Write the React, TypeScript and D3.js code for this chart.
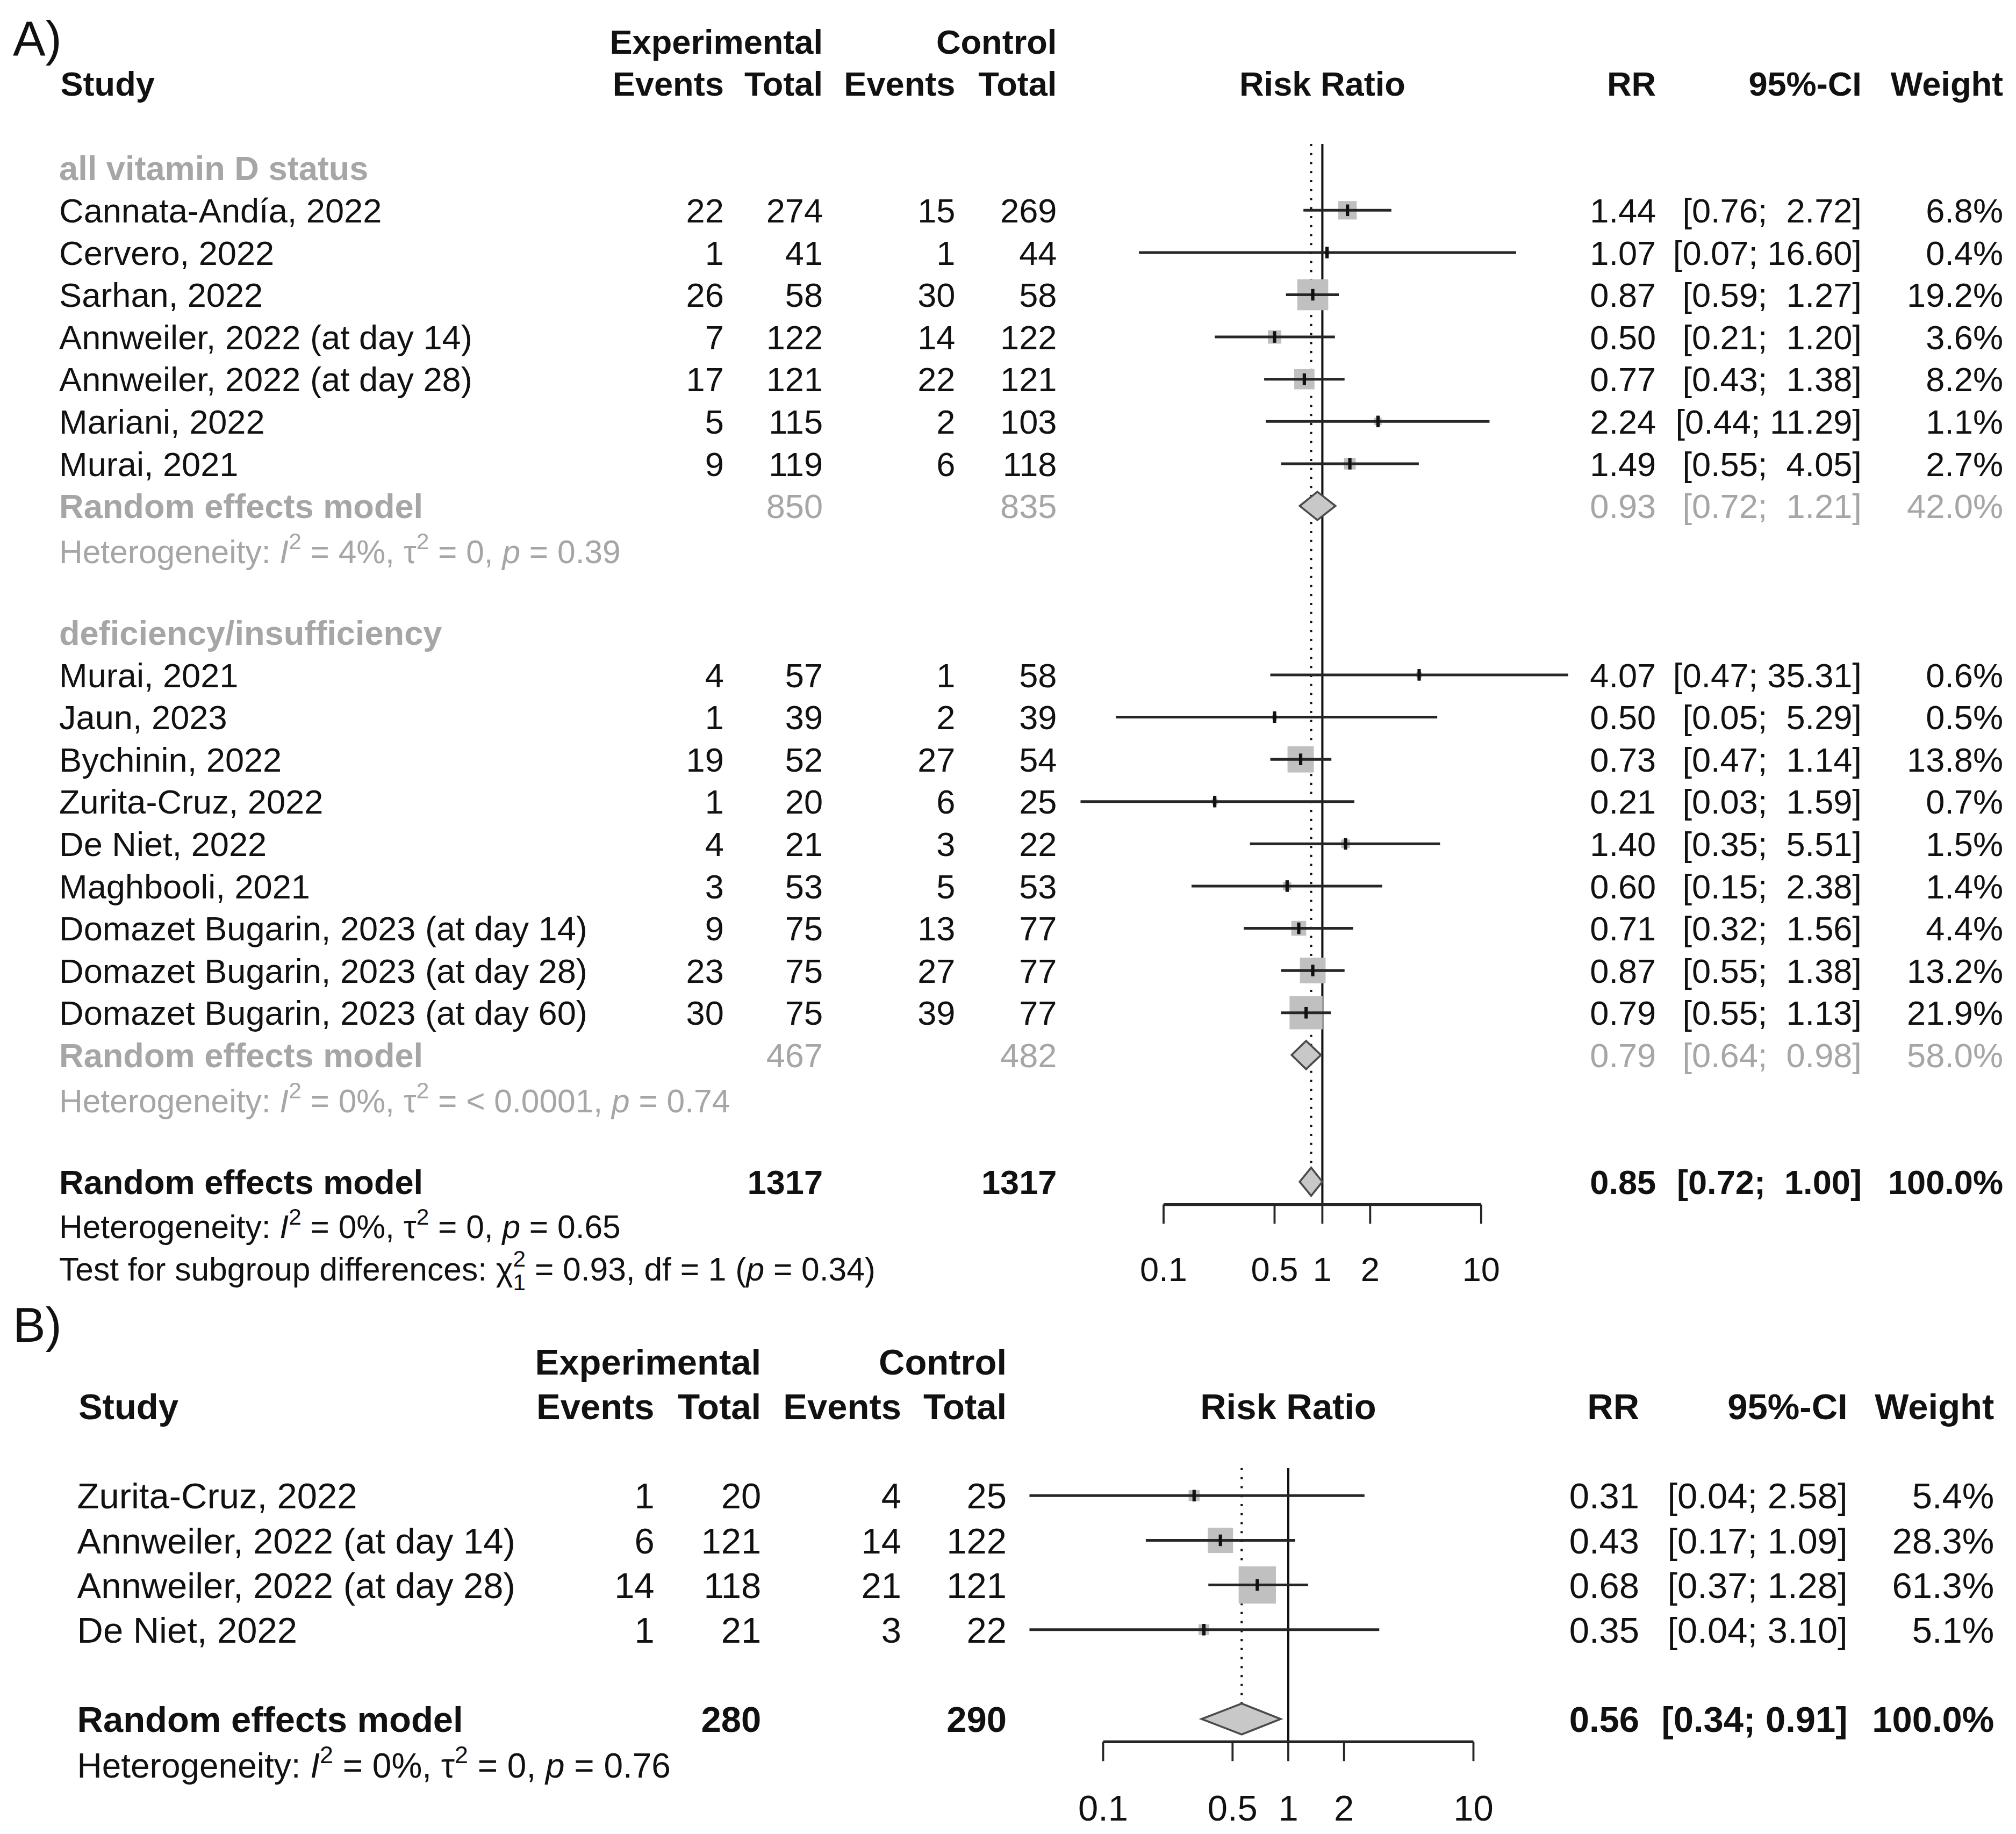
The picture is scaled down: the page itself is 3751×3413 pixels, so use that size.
import React from "react";
import * as d3 from "d3";

// output size and the drawing space (the picture is laid out in 1568-wide units)
const W = 3751;
const H = 3413;
const VW = 1568;
const VH = (H * VW) / W;

const FONT = "'Liberation Sans', Arial, Helvetica, sans-serif";
const INK = "#111111";
const GRAY = "#a6a6a6";
const LINE = "#262626";
const BOX = "#c0c0c0";

// ---------- panel A, subgroup 1: all vitamin D status
const a1Names = [
  "Cannata-Andía, 2022",
  "Cervero, 2022",
  "Sarhan, 2022",
  "Annweiler, 2022 (at day 14)",
  "Annweiler, 2022 (at day 28)",
  "Mariani, 2022",
  "Murai, 2021",
];
const a1EvE = [22, 1, 26, 7, 17, 5, 9];
const a1TotE = [274, 41, 58, 122, 121, 115, 119];
const a1EvC = [15, 1, 30, 14, 22, 2, 6];
const a1TotC = [269, 44, 58, 122, 121, 103, 118];
const a1RR = [1.44, 1.07, 0.87, 0.5, 0.77, 2.24, 1.49];
const a1Lo = [0.76, 0.07, 0.59, 0.21, 0.43, 0.44, 0.55];
const a1Hi = [2.72, 16.6, 1.27, 1.2, 1.38, 11.29, 4.05];
const a1W = [6.8, 0.4, 19.2, 3.6, 8.2, 1.1, 2.7];

// ---------- panel A, subgroup 2: deficiency/insufficiency
const a2Names = [
  "Murai, 2021",
  "Jaun, 2023",
  "Bychinin, 2022",
  "Zurita-Cruz, 2022",
  "De Niet, 2022",
  "Maghbooli, 2021",
  "Domazet Bugarin, 2023 (at day 14)",
  "Domazet Bugarin, 2023 (at day 28)",
  "Domazet Bugarin, 2023 (at day 60)",
];
const a2EvE = [4, 1, 19, 1, 4, 3, 9, 23, 30];
const a2TotE = [57, 39, 52, 20, 21, 53, 75, 75, 75];
const a2EvC = [1, 2, 27, 6, 3, 5, 13, 27, 39];
const a2TotC = [58, 39, 54, 25, 22, 53, 77, 77, 77];
const a2RR = [4.07, 0.5, 0.73, 0.21, 1.4, 0.6, 0.71, 0.87, 0.79];
const a2Lo = [0.47, 0.05, 0.47, 0.03, 0.35, 0.15, 0.32, 0.55, 0.55];
const a2Hi = [35.31, 5.29, 1.14, 1.59, 5.51, 2.38, 1.56, 1.38, 1.13];
const a2W = [0.6, 0.5, 13.8, 0.7, 1.5, 1.4, 4.4, 13.2, 21.9];

// pooled rows of panel A: subgroup 1, subgroup 2, overall
const aGroupLabels = ["all vitamin D status", "deficiency/insufficiency"];
const aPoolTotE = [850, 467, 1317];
const aPoolTotC = [835, 482, 1317];
const aPoolRR = [0.93, 0.79, 0.85];
const aPoolLo = [0.72, 0.64, 0.72];
const aPoolHi = [1.21, 0.98, 1.0];
const aPoolW = [42.0, 58.0, 100.0];
const aHetI2 = ["4%", "0%", "0%"];
const aHetTau2 = ["0", "< 0.0001", "0"];
const aHetP = ["0.39", "0.74", "0.65"];
const aTestChi = "0.93";
const aTestDf = "1";
const aTestP = "0.34";

// ---------- panel B
const bNames = [
  "Zurita-Cruz, 2022",
  "Annweiler, 2022 (at day 14)",
  "Annweiler, 2022 (at day 28)",
  "De Niet, 2022",
];
const bEvE = [1, 6, 14, 1];
const bTotE = [20, 121, 118, 21];
const bEvC = [4, 14, 21, 3];
const bTotC = [25, 122, 121, 22];
const bRR = [0.31, 0.43, 0.68, 0.35];
const bLo = [0.04, 0.17, 0.37, 0.04];
const bHi = [2.58, 1.09, 1.28, 3.1];
const bW = [5.4, 28.3, 61.3, 5.1];
const bPoolTotE = 280;
const bPoolTotC = 290;
const bPoolRR = 0.56;
const bPoolLo = 0.34;
const bPoolHi = 0.91;
const bPoolW = 100.0;
const bHetI2 = "0%";
const bHetTau2 = "0";
const bHetP = "0.76";

const axisTicks = [0.1, 0.5, 1, 2, 10];

type Study = {
  name: string;
  ee: number;
  te: number;
  ec: number;
  tc: number;
  rr: number;
  lo: number;
  hi: number;
  w: number;
};

const makeStudies = (
  names: string[],
  ee: number[],
  te: number[],
  ec: number[],
  tc: number[],
  rr: number[],
  lo: number[],
  hi: number[],
  w: number[]
): Study[] =>
  names.map((name, i) => ({
    name,
    ee: ee[i],
    te: te[i],
    ec: ec[i],
    tc: tc[i],
    rr: rr[i],
    lo: lo[i],
    hi: hi[i],
    w: w[i],
  }));

const a1 = makeStudies(a1Names, a1EvE, a1TotE, a1EvC, a1TotC, a1RR, a1Lo, a1Hi, a1W);
const a2 = makeStudies(a2Names, a2EvE, a2TotE, a2EvC, a2TotC, a2RR, a2Lo, a2Hi, a2W);
const bs = makeStudies(bNames, bEvE, bTotE, bEvC, bTotC, bRR, bLo, bHi, bW);

type Layout = {
  x: any;
  y: any;
  box: any;
  fs: number;
  cols: { study: number; evE: number; totE: number; evC: number; totC: number; rr: number; ci: number; w: number };
  ciPad: number;
  diamondH: number;
  lineTop: number;
  axisY: number;
  labelY: number;
};

const padOf = (his: number[]) => d3.max(his, (h) => h.toFixed(2).length) || 4;

const LA: Layout = {
  x: d3.scaleLog().domain([0.1, 10]).range([905, 1152]),
  y: d3.scaleLinear().domain([0, 28]).range([65, 985]),
  box: d3.scaleSqrt().domain([0, 100]).range([0, 55]),
  fs: 26.4,
  cols: { study: 46, evE: 563, totE: 640, evC: 743, totC: 822, rr: 1288, ci: 1448, w: 1558 },
  ciPad: padOf([...a1Hi, ...a2Hi, ...aPoolHi]),
  diamondH: 11,
  lineTop: 112,
  axisY: 937,
  labelY: 987,
};

const LB: Layout = {
  x: d3.scaleLog().domain([0.1, 10]).range([858, 1146]),
  y: d3.scaleLinear().domain([0, 8]).range([1094, 1372]),
  box: d3.scaleSqrt().domain([0, 100]).range([0, 37]),
  fs: 28,
  cols: { study: 60, evE: 509, totE: 592, evC: 701, totC: 783, rr: 1275, ci: 1437, w: 1551 },
  ciPad: padOf([...bHi, bPoolHi]),
  diamondH: 12,
  lineTop: 1142,
  axisY: 1355,
  labelY: 1406,
};

const ciText = (lo: number, hi: number, pad: number) =>
  `[${lo.toFixed(2)}; ${hi.toFixed(2).padStart(pad)}]`;

const Txt = ({ x, cy, fs, anchor = "start", bold = false, fill = INK, children }: any) => (
  <text
    x={x}
    y={cy + 0.36 * fs}
    fontSize={fs}
    fontFamily={FONT}
    fontWeight={bold ? "bold" : "normal"}
    textAnchor={anchor}
    fill={fill}
    xmlSpace="preserve"
    style={{ whiteSpace: "pre" }}
  >
    {children}
  </text>
);

type Seg = { t: string; it?: boolean; sup?: boolean; sub?: boolean; back?: boolean };

// text pieces with super/subscripts, shifted by dy
const renderSegs = (parts: Seg[], fs: number) => {
  let cur = 0;
  return parts.map((p, i) => {
    const target = p.sup ? -0.42 * fs : p.sub ? 0.3 * fs : 0;
    const dy = target - cur;
    cur = target;
    const small = p.sup || p.sub;
    return (
      <tspan
        key={i}
        dy={dy ? dy : undefined}
        dx={p.back ? -0.556 * 0.7 * fs : undefined}
        fontSize={small ? fs * 0.7 : undefined}
        fontStyle={p.it ? "italic" : undefined}
      >
        {p.t}
      </tspan>
    );
  });
};

const hetSegs = (i2: string, tau2: string, p: string): Seg[] => [
  { t: "Heterogeneity: " },
  { t: "I", it: true },
  { t: "2", sup: true },
  { t: ` = ${i2}, ` },
  { t: "τ" },
  { t: "2", sup: true },
  { t: ` = ${tau2}, ` },
  { t: "p", it: true },
  { t: ` = ${p}` },
];

const testSegs: Seg[] = [
  { t: "Test for subgroup differences: " },
  { t: "χ" },
  { t: "2", sup: true },
  { t: aTestDf, sub: true, back: true },
  { t: ` = ${aTestChi}, df = ${aTestDf} (` },
  { t: "p", it: true },
  { t: ` = ${aTestP})` },
];

const SegText = ({ x, cy, fs, fill, segs }: any) => (
  <text
    x={x}
    y={cy + 0.36 * fs}
    fontSize={fs}
    fontFamily={FONT}
    fill={fill}
    xmlSpace="preserve"
    style={{ whiteSpace: "pre" }}
  >
    {renderSegs(segs, fs)}
  </text>
);

function StudyRow({ s, k, L }: { s: Study; k: number; L: Layout }) {
  const cy = L.y(k);
  const cx = L.x(s.rr);
  const side = L.box(s.w);
  const c = L.cols;
  return (
    <g>
      <Txt x={c.study} cy={cy} fs={L.fs}>{s.name}</Txt>
      <Txt x={c.evE} cy={cy} fs={L.fs} anchor="end">{s.ee}</Txt>
      <Txt x={c.totE} cy={cy} fs={L.fs} anchor="end">{s.te}</Txt>
      <Txt x={c.evC} cy={cy} fs={L.fs} anchor="end">{s.ec}</Txt>
      <Txt x={c.totC} cy={cy} fs={L.fs} anchor="end">{s.tc}</Txt>
      <rect x={cx - side / 2} y={cy - side / 2} width={side} height={side} fill={BOX} />
      <line x1={L.x(s.lo)} x2={L.x(s.hi)} y1={cy} y2={cy} stroke={LINE} strokeWidth={2.1} />
      <line x1={cx} x2={cx} y1={cy - 4.5} y2={cy + 4.5} stroke={INK} strokeWidth={2.6} />
      <Txt x={c.rr} cy={cy} fs={L.fs} anchor="end">{s.rr.toFixed(2)}</Txt>
      <Txt x={c.ci} cy={cy} fs={L.fs} anchor="end">{ciText(s.lo, s.hi, L.ciPad)}</Txt>
      <Txt x={c.w} cy={cy} fs={L.fs} anchor="end">{s.w.toFixed(1) + "%"}</Txt>
    </g>
  );
}

function PooledRow({ k, L, te, tc, rr, lo, hi, w, fill, boldVals }: any) {
  const cy = L.y(k);
  const c = L.cols;
  const h = L.diamondH;
  const pts = [
    [L.x(lo), cy],
    [L.x(rr), cy - h],
    [L.x(hi), cy],
    [L.x(rr), cy + h],
  ]
    .map((p) => p.join(","))
    .join(" ");
  return (
    <g>
      <Txt x={c.study} cy={cy} fs={L.fs} bold fill={fill}>Random effects model</Txt>
      <Txt x={c.totE} cy={cy} fs={L.fs} anchor="end" bold={boldVals} fill={fill}>{te}</Txt>
      <Txt x={c.totC} cy={cy} fs={L.fs} anchor="end" bold={boldVals} fill={fill}>{tc}</Txt>
      <polygon points={pts} fill="#c8c8c8" stroke="#4a4a4a" strokeWidth={1.5} />
      <Txt x={c.rr} cy={cy} fs={L.fs} anchor="end" bold={boldVals} fill={fill}>{rr.toFixed(2)}</Txt>
      <Txt x={c.ci} cy={cy} fs={L.fs} anchor="end" bold={boldVals} fill={fill}>{ciText(lo, hi, L.ciPad)}</Txt>
      <Txt x={c.w} cy={cy} fs={L.fs} anchor="end" bold={boldVals} fill={fill}>{w.toFixed(1) + "%"}</Txt>
    </g>
  );
}

function Header({ L }: { L: Layout }) {
  const c = L.cols;
  const y1 = L.y(-1);
  const y2 = L.y(0);
  return (
    <g>
      <Txt x={c.totE} cy={y1} fs={L.fs} anchor="end" bold>Experimental</Txt>
      <Txt x={c.totC} cy={y1} fs={L.fs} anchor="end" bold>Control</Txt>
      <Txt x={c.study + 1} cy={y2} fs={L.fs} bold>Study</Txt>
      <Txt x={c.evE} cy={y2} fs={L.fs} anchor="end" bold>Events</Txt>
      <Txt x={c.totE} cy={y2} fs={L.fs} anchor="end" bold>Total</Txt>
      <Txt x={c.evC} cy={y2} fs={L.fs} anchor="end" bold>Events</Txt>
      <Txt x={c.totC} cy={y2} fs={L.fs} anchor="end" bold>Total</Txt>
      <Txt x={L.x(1)} cy={y2} fs={L.fs} anchor="middle" bold>Risk Ratio</Txt>
      <Txt x={c.rr} cy={y2} fs={L.fs} anchor="end" bold>RR</Txt>
      <Txt x={c.ci} cy={y2} fs={L.fs} anchor="end" bold>95%-CI</Txt>
      <Txt x={c.w} cy={y2} fs={L.fs} anchor="end" bold>Weight</Txt>
    </g>
  );
}

function RefLines({ L, pooled, dashBottom }: { L: Layout; pooled: number; dashBottom: number }) {
  const [x0, x1] = L.x.range();
  return (
    <g>
      <line x1={L.x(1)} x2={L.x(1)} y1={L.lineTop} y2={L.axisY} stroke={INK} strokeWidth={1.7} />
      <line
        x1={L.x(pooled)}
        x2={L.x(pooled)}
        y1={L.lineTop}
        y2={dashBottom}
        stroke={INK}
        strokeWidth={1.7}
        strokeDasharray="1.7 5.3"
      />
      <line x1={x0} x2={x1} y1={L.axisY} y2={L.axisY} stroke={LINE} strokeWidth={2.2} />
      {axisTicks.map((t) => (
        <g key={t}>
          <line x1={L.x(t)} x2={L.x(t)} y1={L.axisY} y2={L.axisY + 15} stroke={LINE} strokeWidth={1.6} />
          <Txt x={L.x(t)} cy={L.labelY} fs={L.fs} anchor="middle">{String(t)}</Txt>
        </g>
      ))}
    </g>
  );
}

function PanelA() {
  const L = LA;
  const hfs = L.fs * 0.958;
  const g1Start = 3;
  const g2Start = 14;
  return (
    <g>
      <text x={10} y={43} fontSize={38} fontFamily={FONT} fill={INK}>A)</text>
      <Header L={L} />
      <RefLines L={L} pooled={aPoolRR[2]} dashBottom={L.y(26) - L.diamondH} />

      <Txt x={L.cols.study} cy={L.y(2)} fs={L.fs} bold fill={GRAY}>{aGroupLabels[0]}</Txt>
      {a1.map((s, i) => (
        <StudyRow key={s.name} s={s} k={g1Start + i} L={L} />
      ))}
      <PooledRow k={10} L={L} te={aPoolTotE[0]} tc={aPoolTotC[0]} rr={aPoolRR[0]} lo={aPoolLo[0]} hi={aPoolHi[0]} w={aPoolW[0]} fill={GRAY} boldVals={false} />
      <SegText x={L.cols.study} cy={L.y(11) + 2.5} fs={hfs} fill={GRAY} segs={hetSegs(aHetI2[0], aHetTau2[0], aHetP[0])} />

      <Txt x={L.cols.study} cy={L.y(13)} fs={L.fs} bold fill={GRAY}>{aGroupLabels[1]}</Txt>
      {a2.map((s, i) => (
        <StudyRow key={s.name + i} s={s} k={g2Start + i} L={L} />
      ))}
      <PooledRow k={23} L={L} te={aPoolTotE[1]} tc={aPoolTotC[1]} rr={aPoolRR[1]} lo={aPoolLo[1]} hi={aPoolHi[1]} w={aPoolW[1]} fill={GRAY} boldVals={false} />
      <SegText x={L.cols.study} cy={L.y(24) + 2.5} fs={hfs} fill={GRAY} segs={hetSegs(aHetI2[1], aHetTau2[1], aHetP[1])} />

      <PooledRow k={26} L={L} te={aPoolTotE[2]} tc={aPoolTotC[2]} rr={aPoolRR[2]} lo={aPoolLo[2]} hi={aPoolHi[2]} w={aPoolW[2]} fill={INK} boldVals={true} />
      <SegText x={L.cols.study} cy={L.y(27) + 2} fs={hfs} fill={INK} segs={hetSegs(aHetI2[2], aHetTau2[2], aHetP[2])} />
      <SegText x={L.cols.study} cy={L.y(28) + 2} fs={hfs} fill={INK} segs={testSegs} />
    </g>
  );
}

function PanelB() {
  const L = LB;
  const hfs = L.fs * 0.955;
  return (
    <g>
      <text x={10} y={1044} fontSize={38} fontFamily={FONT} fill={INK}>B)</text>
      <Header L={L} />
      <RefLines L={L} pooled={bPoolRR} dashBottom={L.y(7) - L.diamondH} />
      {bs.map((s, i) => (
        <StudyRow key={s.name} s={s} k={2 + i} L={L} />
      ))}
      <PooledRow k={7} L={L} te={bPoolTotE} tc={bPoolTotC} rr={bPoolRR} lo={bPoolLo} hi={bPoolHi} w={bPoolW} fill={INK} boldVals={true} />
      <SegText x={L.cols.study} cy={L.y(8) + 1} fs={hfs} fill={INK} segs={hetSegs(bHetI2, bHetTau2, bHetP)} />
    </g>
  );
}

export default function App() {
  return (
    <div style={{ position: "absolute", left: 0, top: 0, background: "#fff" }}>
      <svg width={W} height={H} viewBox={`0 0 ${VW} ${VH}`} style={{ display: "block" }}>
        <rect x={0} y={0} width={VW} height={VH} fill="#fff" />
        <PanelA />
        <PanelB />
      </svg>
    </div>
  );
}
